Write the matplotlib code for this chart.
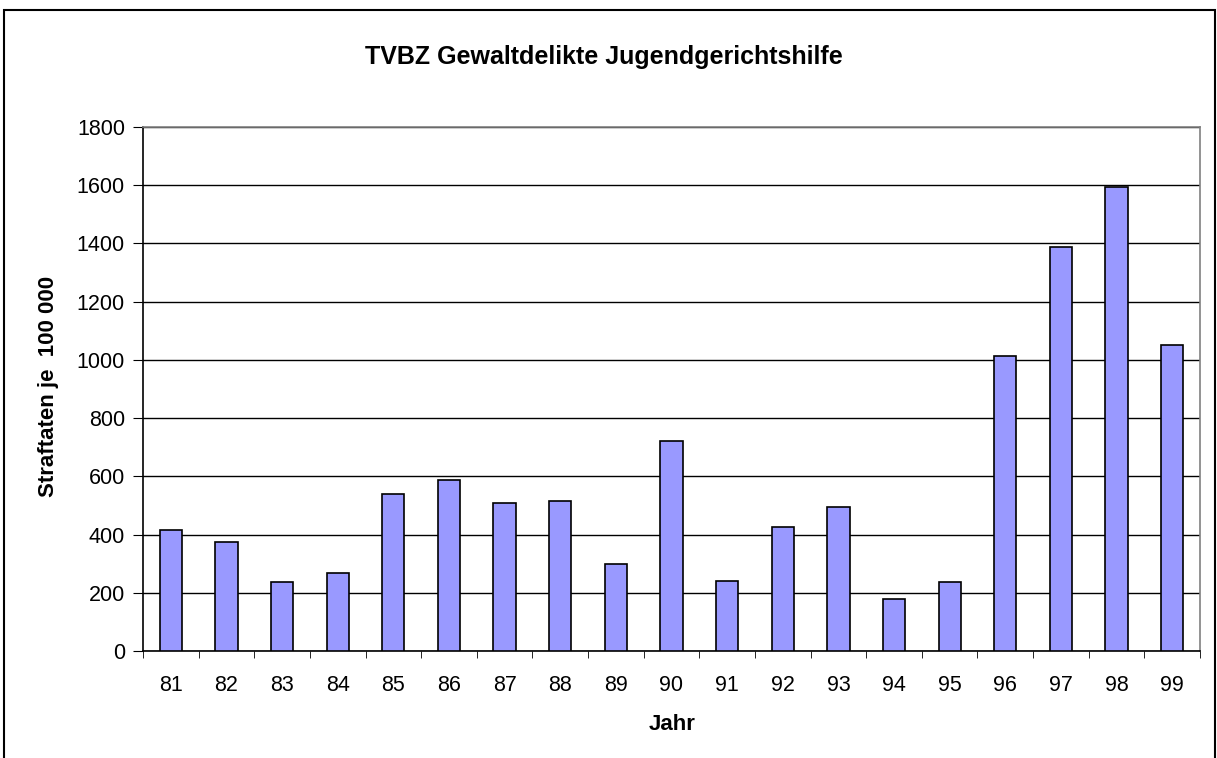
import matplotlib
matplotlib.use("Agg")
import matplotlib.pyplot as plt
from matplotlib.patches import Rectangle

years = ["81", "82", "83", "84", "85", "86", "87", "88", "89", "90",
         "91", "92", "93", "94", "95", "96", "97", "98", "99"]
values = [416, 374, 237, 267, 539, 586, 507, 516, 298, 722,
          241, 426, 493, 180, 238, 1014, 1387, 1595, 1051]
yticks = [0, 200, 400, 600, 800, 1000, 1200, 1400, 1600, 1800]

plt.rcParams['font.family'] = ['Liberation Sans', 'DejaVu Sans']

W, H = 1217, 758
fig = plt.figure(figsize=(W / 100, H / 100), dpi=100)
ax = fig.add_axes([143 / W, 1 - 651 / H, (1200 - 143) / W, (651 - 127) / H])

x = list(range(len(years)))
ax.bar(x, values, width=0.4, color="#9999ff", edgecolor="black", linewidth=1.2, zorder=3)

ax.set_xlim(-0.5, len(years) - 0.5)
ax.set_ylim(0, 1800)
ax.set_yticks(yticks)
ax.set_yticklabels([str(v) for v in yticks], fontsize=15.5)
ax.set_xticks(x)
ax.set_xticklabels(years, fontsize=15.5)
ax.tick_params(axis='x', length=0, pad=17)
ax.set_xticks([i - 0.5 for i in range(len(years) + 1)], minor=True)
ax.tick_params(axis='x', which='minor', length=5, direction='out', color='black')
ax.tick_params(axis='y', length=7, direction='out', color='black', pad=6)

ax.grid(axis='y', color='black', linewidth=1, zorder=0)
for s in ['top', 'right']:
    ax.spines[s].set_color('#808080')
    ax.spines[s].set_linewidth(1.2)
for s in ['left', 'bottom']:
    ax.spines[s].set_color('black')
    ax.spines[s].set_linewidth(1.2)

fig.text(672 / W, 1 - 724 / H, "Jahr", ha='center', va='center',
         fontsize=16, fontweight='bold')
fig.text(49 / W, 1 - 386 / H, "Straftaten je  100 000", ha='center', va='center',
         rotation=90, fontsize=16, fontweight='bold')
fig.text(604 / W, 1 - 57 / H, "TVBZ Gewaltdelikte Jugendgerichtshilfe",
         ha='center', va='center', fontsize=18, fontweight='bold')

fig.patches.append(Rectangle((4 / W, -0.05), (1215 - 4) / W, 1.05 - 10 / H,
                             transform=fig.transFigure, fill=False,
                             edgecolor='black', linewidth=1.5))

fig.savefig("out.png", dpi=100)
